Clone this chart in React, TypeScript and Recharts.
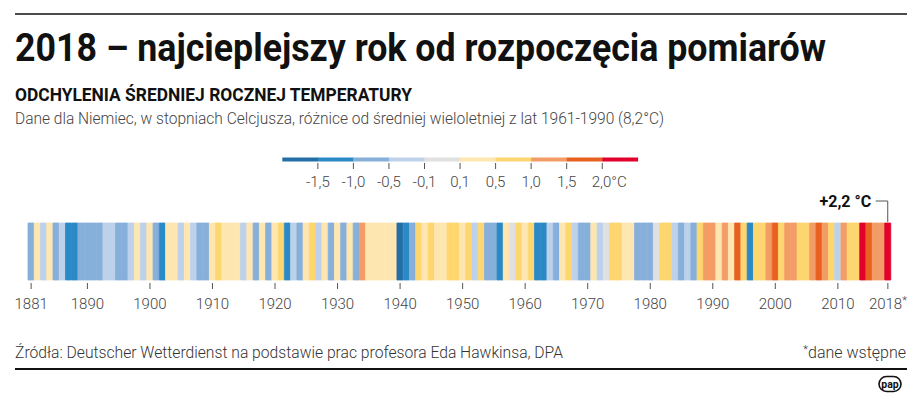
import React from 'react'
import { BarChart, Bar, XAxis, YAxis, Cell, LabelList } from 'recharts'

// Odchylenia od sredniej 1961-1990 (8,2°C), Niemcy, 1881-2018
const FIRST_YEAR = 1881
const ANOMALIES = [
  -0.7, 0.3, -0.3, 0.2, -0.6, -0.3, -1.3, -1.2, -0.8, -0.7, // 1881-1890
  -0.9, -0.8, -0.4, -0.2, -0.8, -0.7, -0.2, 0.3, -0.2, 0.3, // 1891-1900
  -0.6, -1.1, 0.2, 0.3, -0.3, 0.2, -0.3, -0.7, -0.8, 0.2, // 1901-1910
  0.7, 0.2, 0.3, 0.4, -0.2, 0.2, -0.6, 0.3, -0.7, 0.4, // 1911-1920
  0.6, -1.1, -0.2, -0.6, 0.3, 0.6, -0.2, 0.3, -0.7, 0.4, // 1921-1930
  -0.6, 0.3, -0.6, 1.2, 0.4, 0.2, 0.4, 0.4, 0.3, -1.6, // 1931-1940
  -1.2, -0.9, 0.6, 0.3, 0.8, 0.4, 0.3, 0.8, 0.9, 0.4, // 1941-1950
  0.6, -0.2, 0.6, -0.6, -0.7, -1.2, 0.4, 0.0, 0.8, 0.4, // 1951-1960
  0.9, -1.1, -1.4, -0.2, -0.7, 0.4, 0.8, -0.2, -0.6, -0.6, // 1961-1970
  0.3, -0.3, 0.0, 0.7, 0.7, 0.4, 0.4, -0.6, -0.6, -0.8, // 1971-1980
  0.0, 0.8, 0.8, -0.2, -0.7, -0.4, -0.8, 0.8, 1.3, 1.3, // 1981-1990
  0.4, 1.3, 0.4, 1.6, 0.7, -1.1, 0.6, 0.9, 1.3, 1.7, // 1991-2000
  0.8, 1.4, 1.2, 0.8, 0.9, 1.3, 1.7, 1.3, 0.9, -0.4, // 2001-2010
  1.4, 0.9, 0.6, 2.1, 1.7, 1.3, 1.4, 2.2, // 2011-2018
]
const YEARS = ANOMALIES.map((_, i) => FIRST_YEAR + i)
const TICK_YEARS = [1881, 1890, 1900, 1910, 1920, 1930, 1940, 1950, 1960, 1970, 1980, 1990, 2000, 2010, 2018]
const PRELIMINARY_YEAR = 2018

const THRESHOLDS = [-1.5, -1.0, -0.5, -0.1, 0.1, 0.5, 1.0, 1.5, 2.0]
const BIN_COLORS = [
  '#236ea6', '#2b8ac6', '#86afda', '#bdd1ea', '#e0e0e0',
  '#fee6b0', '#fed670', '#f49c66', '#e8611f', '#e2002c',
]

const FONT = 'Roboto, "Open Sans", sans-serif'

const fmt = (v: number) => v.toFixed(1).replace('.', ',')
const colorFor = (v: number) => BIN_COLORS[THRESHOLDS.filter((t) => v >= t).length]

const data = YEARS.map((year, i) => ({ year, anomaly: ANOMALIES[i], band: 1 }))

function YearTick(props: any) {
  const { x, y, payload } = props
  if (!TICK_YEARS.includes(payload.value)) return <g />
  return (
    <g>
      <line x1={x} x2={x} y1={y + 3} y2={y + 9} stroke="#555" strokeWidth={1} />
      <text x={x} y={y + 28.5} textAnchor="middle" fill="#444" fontSize={15} fontWeight={300} fontFamily={FONT}>
        {payload.value}
        {payload.value === PRELIMINARY_YEAR && <tspan dy={-5} fontSize={11}>*</tspan>}
      </text>
    </g>
  )
}

function RecordLabel(props: any) {
  if (props.index !== data.length - 1) return null
  const box = props.viewBox ?? props
  const cx = box.x + box.width / 2
  const top = box.y
  return (
    <g>
      <path d={`M${cx - 12},${top - 22} H${cx} V${top - 1}`} fill="none" stroke="#555" strokeWidth={1} />
      <text x={cx - 16.5} y={top - 16.5} textAnchor="end" fontSize={16} fontWeight={700} fill="#111" fontFamily={FONT}>
        {`+${fmt(props.value)} °C`}
      </text>
    </g>
  )
}

function ColorScale() {
  const x0 = 282.3
  const seg = 35.55
  return (
    <g>
      {BIN_COLORS.map((c, i) => (
        <rect key={c} x={x0 + seg * i} y={157.5} width={seg + 0.3} height={4} fill={c} />
      ))}
      {THRESHOLDS.map((t, i) => {
        const tx = x0 + seg * (i + 1)
        const last = i === THRESHOLDS.length - 1
        return (
          <g key={t}>
            <line x1={tx} x2={tx} y1={163} y2={169} stroke="#555" />
            <text
              x={last ? tx - 10.5 : tx}
              y={187}
              textAnchor={last ? 'start' : 'middle'}
              fontSize={15}
              fontWeight={300}
              fill="#444"
              fontFamily={FONT}
            >
              {fmt(t) + (last ? '°C' : '')}
            </text>
          </g>
        )
      })}
    </g>
  )
}

export default function App() {
  return (
    <div style={{ position: 'absolute', left: 0, top: 0, width: 920, height: 402, background: '#fff', overflow: 'hidden' }}>
      <svg width={920} height={402} style={{ position: 'absolute', left: 0, top: 0 }}>
        <line x1={15} x2={907} y1={14} y2={14} stroke="#111" strokeWidth={1.6} />
        <text x={15} y={61} fontSize={38} fontWeight={700} fill="#111" fontFamily={FONT} textLength={811} lengthAdjust="spacingAndGlyphs">
          2018 – najcieplejszy rok od rozpoczęcia pomiarów
        </text>
        <text x={15} y={101} fontSize={17.5} fontWeight={700} fill="#111" fontFamily={FONT} textLength={397} lengthAdjust="spacingAndGlyphs">
          ODCHYLENIA ŚREDNIEJ ROCZNEJ TEMPERATURY
        </text>
        <text x={15} y={124} fontSize={16} fontWeight={300} fill="#444" fontFamily={FONT} textLength={649} lengthAdjust="spacingAndGlyphs">
          Dane dla Niemiec, w stopniach Celcjusza, różnice od średniej wieloletniej z lat 1961-1990 (8,2°C)
        </text>
        <ColorScale />
        <text x={15} y={358} fontSize={16} fontWeight={300} fill="#333" fontFamily={FONT} textLength={548} lengthAdjust="spacingAndGlyphs">
          Źródła: Deutscher Wetterdienst na podstawie prac profesora Eda Hawkinsa, DPA
        </text>
        <text x={906} y={358} fontSize={16} fontWeight={300} fill="#333" fontFamily={FONT} textAnchor="end">
          <tspan fontSize={11} dy={-5}>*</tspan>
          <tspan dy={5}>dane wstępne</tspan>
        </text>
        <line x1={15} x2={907} y1={369} y2={369} stroke="#111" strokeWidth={2} />
        <rect x={879} y={376.5} width={22} height={15} rx={7.5} fill="#fff" stroke="#111" strokeWidth={1.6} />
        <text x={890} y={387.5} textAnchor="middle" fontSize={10.5} fontWeight={700} fill="#111" fontFamily={FONT}>
          pap
        </text>
      </svg>
      <div style={{ position: 'absolute', left: 0, top: 190 }}>
        <BarChart
          width={920}
          height={130}
          data={data}
          margin={{ top: 33, right: 29, bottom: 0, left: 28 }}
          barCategoryGap={0}
          barGap={0}
        >
          <XAxis
            dataKey="year"
            interval={0}
            tick={YearTick}
            tickLine={false}
            axisLine={false}
            tickSize={0}
            tickMargin={0}
            height={40}
          />
          <YAxis hide domain={[0, 1]} />
          <Bar dataKey="band" isAnimationActive={false}>
            {data.map((d) => (
              <Cell key={d.year} fill={colorFor(d.anomaly)} stroke={colorFor(d.anomaly)} strokeWidth={0.8} />
            ))}
            <LabelList dataKey="anomaly" content={RecordLabel} />
          </Bar>
        </BarChart>
      </div>
    </div>
  )
}
